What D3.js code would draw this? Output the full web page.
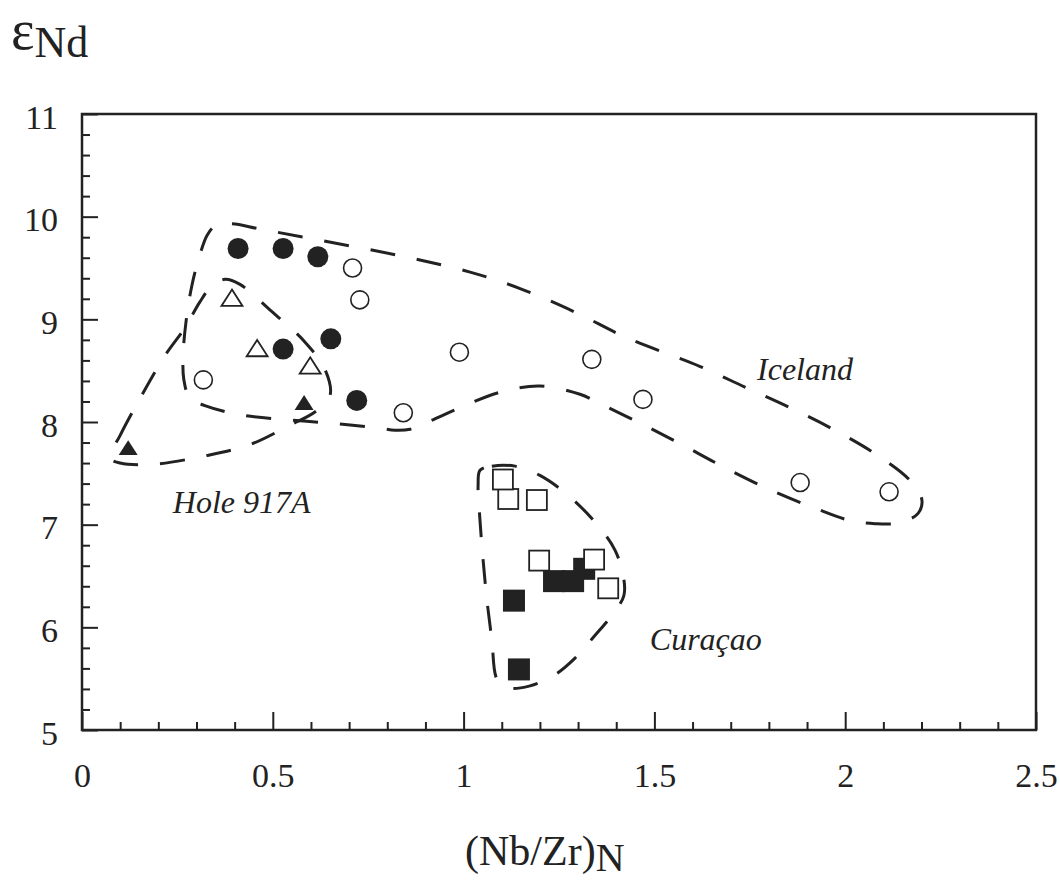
<!DOCTYPE html>
<html>
<head>
<meta charset="utf-8">
<script src="https://cdn.jsdelivr.net/npm/d3@7"></script>
<style>
  body { margin: 0; background: #fff; }
  text { font-family: "Liberation Serif", "Times New Roman", serif; fill: #222; }
</style>
</head>
<body>
<svg id="chart" width="1060" height="880"></svg>
<script>
// data: [ (Nb/Zr)N , eNd ]
var icelandFilled = [[0.409, 9.69], [0.527, 9.69], [0.618, 9.61], [0.527, 8.71], [0.652, 8.81], [0.720, 8.21]];
var icelandOpen = [[0.709, 9.50], [0.728, 9.19], [0.318, 8.41], [0.989, 8.68], [0.842, 8.09],
                   [1.336, 8.61], [1.470, 8.22], [1.882, 7.41], [2.115, 7.32]];
var holeOpen = [[0.393, 9.21], [0.459, 8.72], [0.598, 8.55]];
var holeFilled = [[0.582, 8.19], [0.121, 7.75]];
var curacaoFilled = [[1.132, 6.26], [1.145, 5.59], [1.237, 6.45], [1.287, 6.45], [1.316, 6.57]];
var curacaoOpen = [[1.117, 7.25], [1.103, 7.44], [1.192, 7.24], [1.198, 6.65], [1.342, 6.66], [1.379, 6.38]];

// dashed envelopes
var icelandField = [[0.349, 9.91], [0.393, 9.93], [0.466, 9.88], [0.624, 9.77], [0.833, 9.62], [1.017, 9.46],
  [1.148, 9.30], [1.292, 9.07], [1.428, 8.82], [1.620, 8.54], [1.737, 8.34], [1.855, 8.14], [1.973, 7.92],
  [2.083, 7.68], [2.170, 7.43], [2.201, 7.24], [2.191, 7.11], [2.144, 7.02], [2.078, 7.01], [2.013, 7.04],
  [1.921, 7.16], [1.803, 7.34], [1.672, 7.58], [1.567, 7.79], [1.462, 7.99], [1.357, 8.18], [1.305, 8.27],
  [1.200, 8.35], [1.095, 8.29], [0.991, 8.14], [0.912, 8.01], [0.860, 7.93], [0.820, 7.92], [0.781, 7.94],
  [0.676, 7.98], [0.545, 8.02], [0.414, 8.07], [0.322, 8.16], [0.283, 8.23], [0.267, 8.41], [0.265, 8.65],
  [0.273, 8.99], [0.288, 9.33], [0.309, 9.63], [0.328, 9.82]];
var holeField = [[0.073, 7.65], [0.100, 7.87], [0.152, 8.23], [0.218, 8.65], [0.270, 8.92], [0.309, 9.17],
  [0.341, 9.33], [0.375, 9.39], [0.414, 9.34], [0.493, 9.09], [0.584, 8.78], [0.637, 8.51], [0.650, 8.26],
  [0.611, 8.10], [0.545, 7.97], [0.440, 7.78], [0.322, 7.67], [0.191, 7.59], [0.100, 7.60]];
var curacaoField = [[1.043, 7.53], [1.074, 7.57], [1.135, 7.57], [1.200, 7.48], [1.279, 7.27], [1.357, 6.97],
  [1.397, 6.75], [1.418, 6.51], [1.420, 6.31], [1.389, 6.12], [1.344, 5.92], [1.292, 5.70], [1.240, 5.54],
  [1.174, 5.43], [1.116, 5.41], [1.088, 5.49], [1.074, 5.88], [1.061, 6.27], [1.051, 6.66], [1.043, 7.04],
  [1.038, 7.39]];

var fieldNames = ["Iceland", "Hole 917A", "Curaçao"];
var fieldLabelPos = [[1.769, 8.41], [0.238, 7.11], [1.488, 5.78]];

var xMajor = [0, 0.5, 1, 1.5, 2, 2.5];
var yMajor = [5, 6, 7, 8, 9, 10, 11];

var serif = '"Liberation Serif", "Times New Roman", serif';

var margin = {top: 114, right: 24, bottom: 150, left: 82};
var width = 1060 - margin.left - margin.right;
var height = 880 - margin.top - margin.bottom;

var svg = d3.select("#chart");
var g = svg.append("g").attr("transform", "translate(" + margin.left + "," + margin.top + ")");

var x = d3.scaleLinear().domain([0, 2.5]).range([0, width]);
var y = d3.scaleLinear().domain([5, 11]).range([height, 0]);

// minor ticks, pointing inward
var xMinor = d3.range(1, 25).filter(function(i) { return i % 5 != 0; }).map(function(i) { return i / 10; });
var yMinor = d3.range(1, 30).filter(function(i) { return i % 5 != 0; }).map(function(i) { return 5 + i / 5; });

g.append("g")
  .attr("transform", "translate(0," + height + ")")
  .call(d3.axisBottom(x).tickValues(xMinor).tickSize(-8).tickFormat(""));

g.append("g")
  .call(d3.axisLeft(y).tickValues(yMinor).tickSize(-8).tickFormat(""));

var xAx = g.append("g")
  .attr("transform", "translate(0," + height + ")")
  .call(d3.axisBottom(x).tickValues(xMajor).tickSize(-18).tickFormat(d3.format("")));

xAx.attr("font-family", serif);
xAx.selectAll("text")
  .attr("y", 57)
  .attr("dy", 0)
  .style("font-family", serif)
  .style("font-size", "34px");

var yAx = g.append("g")
  .call(d3.axisLeft(y).tickValues(yMajor).tickSize(-16).tickPadding(24).tickFormat(d3.format("d")));

yAx.attr("font-family", serif);
yAx.selectAll("text")
  .attr("dy", "0.42em")
  .style("font-family", serif)
  .style("font-size", "34px");

g.selectAll(".domain").remove();
g.selectAll(".tick line").attr("stroke", "#222").attr("stroke-width", 2);

// frame
g.append("rect")
  .attr("width", width)
  .attr("height", height)
  .attr("fill", "none")
  .attr("stroke", "#222")
  .attr("stroke-width", 2.5);

// envelopes
var line = d3.line()
  .x(function(d) { return x(d[0]); })
  .y(function(d) { return y(d[1]); })
  .curve(d3.curveCatmullRomClosed.alpha(0.5));

g.selectAll(".field")
  .data([icelandField, holeField, curacaoField])
  .enter()
  .append("path")
  .attr("class", "field")
  .attr("d", line)
  .attr("fill", "none")
  .attr("stroke", "#222")
  .attr("stroke-width", 3)
  .attr("stroke-dasharray", "25,22");

// symbols
function circles(data, r, filled) {
  g.append("g").selectAll("circle")
    .data(data).enter()
    .append("circle")
    .attr("cx", function(d) { return x(d[0]); })
    .attr("cy", function(d) { return y(d[1]); })
    .attr("r", r)
    .attr("fill", filled ? "#222" : "#fff")
    .attr("stroke", "#222")
    .attr("stroke-width", filled ? 0 : 1.6);
}

function squares(data, s, filled) {
  g.append("g").selectAll("rect")
    .data(data).enter()
    .append("rect")
    .attr("x", function(d) { return x(d[0]) - s / 2; })
    .attr("y", function(d) { return y(d[1]) - s / 2; })
    .attr("width", s)
    .attr("height", s)
    .attr("fill", filled ? "#222" : "#fff")
    .attr("stroke", "#222")
    .attr("stroke-width", filled ? 0 : 1.8);
}

function triangles(data, w, filled) {
  var h = w * 0.78;
  g.append("g").selectAll("path")
    .data(data).enter()
    .append("path")
    .attr("d", function(d) {
      var cx = x(d[0]), cy = y(d[1]);
      return "M" + cx + "," + (cy - h / 2) + "L" + (cx + w / 2) + "," + (cy + h / 2) +
             "L" + (cx - w / 2) + "," + (cy + h / 2) + "Z";
    })
    .attr("fill", filled ? "#222" : "#fff")
    .attr("stroke", "#222")
    .attr("stroke-width", filled ? 0 : 1.8);
}

circles(icelandOpen, 9, false);
circles(icelandFilled, 10.5, true);
triangles(holeOpen, 21, false);
triangles(holeFilled, 19, true);
squares(curacaoFilled, 22, true);
squares(curacaoOpen, 20, false);

// field names
g.selectAll(".fieldName")
  .data(fieldNames).enter()
  .append("text")
  .attr("class", "fieldName")
  .attr("x", function(d, i) { return x(fieldLabelPos[i][0]); })
  .attr("y", function(d, i) { return y(fieldLabelPos[i][1]); })
  .style("font-size", "32px")
  .style("font-style", "italic")
  .text(function(d) { return d; });

// axis titles
var yTitle = svg.append("text").attr("x", 11).attr("y", 49);
yTitle.append("tspan").style("font-size", "56px").text("ε");
yTitle.append("tspan").attr("dy", 8).style("font-size", "44px").text("Nd");

var xTitle = svg.append("text").attr("x", 465).attr("y", 865);
xTitle.append("tspan").style("font-size", "42px").text("(Nb/Zr)");
xTitle.append("tspan").attr("dy", 6).style("font-size", "40px").text("N");
</script>
</body>
</html>
